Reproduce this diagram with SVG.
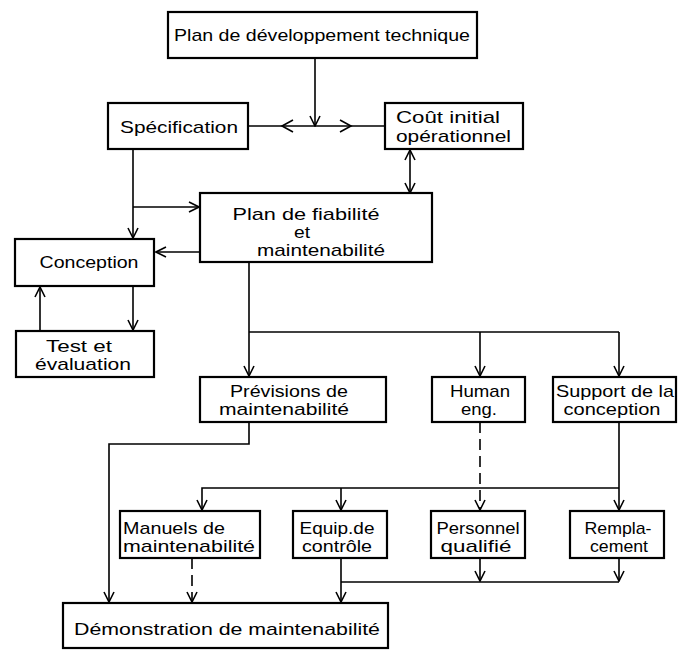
<svg xmlns="http://www.w3.org/2000/svg" width="687" height="660" viewBox="0 0 687 660">
<style>
.box{fill:#fff;stroke:#000;stroke-width:2.2}
.t{font-family:"Liberation Sans",Arial,sans-serif;font-size:17px;fill:#000}
.m{text-anchor:middle}
.c{fill:none;stroke:#000;stroke-width:1.6}
.d{stroke-dasharray:11,6}
.ar{marker-end:url(#ah)}
</style>
<defs>
<marker id="ah" viewBox="0 0 12 12" refX="11" refY="6" markerWidth="12" markerHeight="12" markerUnits="userSpaceOnUse" orient="auto-start-reverse">
<path d="M1,1 L11,6 L1,11" fill="none" stroke="#000" stroke-width="1.6"/>
</marker>
</defs>
<rect width="687" height="660" fill="#fff"/>
<g id="connectors">
<line class="c ar" x1="315" y1="58" x2="315" y2="126"/>
<line class="c" x1="248" y1="126" x2="385" y2="126"/>
<path class="c" d="M293,120 L282,126 L293,132"/>
<path class="c" d="M340,120 L351,126 L340,132"/>
<line class="c" x1="410" y1="150" x2="410" y2="193" marker-start="url(#ah)" marker-end="url(#ah)"/>
<line class="c ar" x1="133" y1="149" x2="133" y2="238"/>
<line class="c ar" x1="133" y1="207" x2="199" y2="207"/>
<line class="c ar" x1="200" y1="252" x2="156" y2="252"/>
<line class="c ar" x1="133" y1="286" x2="133" y2="330"/>
<line class="c ar" x1="40" y1="331" x2="40" y2="287"/>
<line class="c ar" x1="249" y1="262" x2="249" y2="376"/>
<line class="c" x1="249" y1="332" x2="619" y2="332"/>
<line class="c ar" x1="480" y1="332" x2="480" y2="376"/>
<line class="c ar" x1="619" y1="332" x2="619" y2="376"/>
<path class="c ar" d="M249,422 V444 H109 V602"/>
<line class="c d ar" x1="480" y1="422" x2="480" y2="510"/>
<line class="c ar" x1="619" y1="422" x2="619" y2="510"/>
<path class="c ar" d="M619,488 H202 V510"/>
<line class="c ar" x1="341" y1="488" x2="341" y2="510"/>
<line class="c d ar" x1="192" y1="558" x2="192" y2="602"/>
<line class="c ar" x1="341" y1="558" x2="341" y2="602"/>
<line class="c" x1="341" y1="582" x2="619" y2="582"/>
<line class="c ar" x1="480" y1="558" x2="480" y2="581"/>
<line class="c ar" x1="619" y1="558" x2="619" y2="581"/>
</g>
<g id="plan_dev"><rect class="box" x="168" y="12" width="309" height="46"/>
<text class="t m" x="322" y="41" textLength="296" lengthAdjust="spacingAndGlyphs">Plan de développement technique</text></g>
<g id="specification"><rect class="box" x="108" y="103" width="140" height="46"/>
<text class="t m" x="179" y="133" textLength="118" lengthAdjust="spacingAndGlyphs">Spécification</text></g>
<g id="cout"><rect class="box" x="385" y="103" width="138" height="46"/>
<text class="t" x="396" y="123" textLength="104" lengthAdjust="spacingAndGlyphs">Coût initial</text>
<text class="t" x="396" y="142" textLength="115" lengthAdjust="spacingAndGlyphs">opérationnel</text></g>
<g id="plan_fiab"><rect class="box" x="200" y="193" width="232" height="69"/>
<text class="t m" x="306" y="220" textLength="147" lengthAdjust="spacingAndGlyphs">Plan de fiabilité</text>
<text class="t m" x="302" y="238" textLength="16" lengthAdjust="spacingAndGlyphs">et</text>
<text class="t m" x="321" y="256" textLength="128" lengthAdjust="spacingAndGlyphs">maintenabilité</text></g>
<g id="conception"><rect class="box" x="15" y="239" width="139" height="47"/>
<text class="t m" x="89" y="268" textLength="99" lengthAdjust="spacingAndGlyphs">Conception</text></g>
<g id="test"><rect class="box" x="16" y="331" width="138" height="46"/>
<text class="t m" x="79" y="352" textLength="66" lengthAdjust="spacingAndGlyphs">Test et</text>
<text class="t m" x="83" y="370" textLength="96" lengthAdjust="spacingAndGlyphs">évaluation</text></g>
<g id="previsions"><rect class="box" x="200" y="377" width="186" height="45"/>
<text class="t m" x="289" y="397" textLength="118" lengthAdjust="spacingAndGlyphs">Prévisions de</text>
<text class="t m" x="284" y="415" textLength="130" lengthAdjust="spacingAndGlyphs">maintenabilité</text></g>
<g id="human"><rect class="box" x="432" y="377" width="93" height="45"/>
<text class="t m" x="480" y="397" textLength="60" lengthAdjust="spacingAndGlyphs">Human</text>
<text class="t m" x="479" y="415" textLength="36" lengthAdjust="spacingAndGlyphs">eng.</text></g>
<g id="support"><rect class="box" x="553" y="377" width="123" height="45"/>
<text class="t m" x="615" y="397" textLength="118" lengthAdjust="spacingAndGlyphs">Support de la</text>
<text class="t m" x="612" y="415" textLength="97" lengthAdjust="spacingAndGlyphs">conception</text></g>
<g id="manuels"><rect class="box" x="120" y="511" width="140" height="47"/>
<text class="t" x="123" y="534" textLength="102" lengthAdjust="spacingAndGlyphs">Manuels de</text>
<text class="t" x="123" y="552" textLength="132" lengthAdjust="spacingAndGlyphs">maintenabilité</text></g>
<g id="equip"><rect class="box" x="293" y="511" width="94" height="47"/>
<text class="t m" x="337" y="534" textLength="75" lengthAdjust="spacingAndGlyphs">Equip.de</text>
<text class="t m" x="337" y="552" textLength="70" lengthAdjust="spacingAndGlyphs">contrôle</text></g>
<g id="personnel"><rect class="box" x="431" y="511" width="94" height="47"/>
<text class="t m" x="478" y="534" textLength="83" lengthAdjust="spacingAndGlyphs">Personnel</text>
<text class="t m" x="476" y="552" textLength="71" lengthAdjust="spacingAndGlyphs">qualifié</text></g>
<g id="remplacement"><rect class="box" x="570" y="511" width="94" height="47"/>
<text class="t m" x="618" y="534" textLength="67" lengthAdjust="spacingAndGlyphs">Rempla-</text>
<text class="t m" x="619" y="552" textLength="58" lengthAdjust="spacingAndGlyphs">cement</text></g>
<g id="demonstration"><rect class="box" x="63" y="603" width="325" height="45"/>
<text class="t m" x="227" y="635" textLength="306" lengthAdjust="spacingAndGlyphs">Démonstration de maintenabilité</text></g>
</svg>
